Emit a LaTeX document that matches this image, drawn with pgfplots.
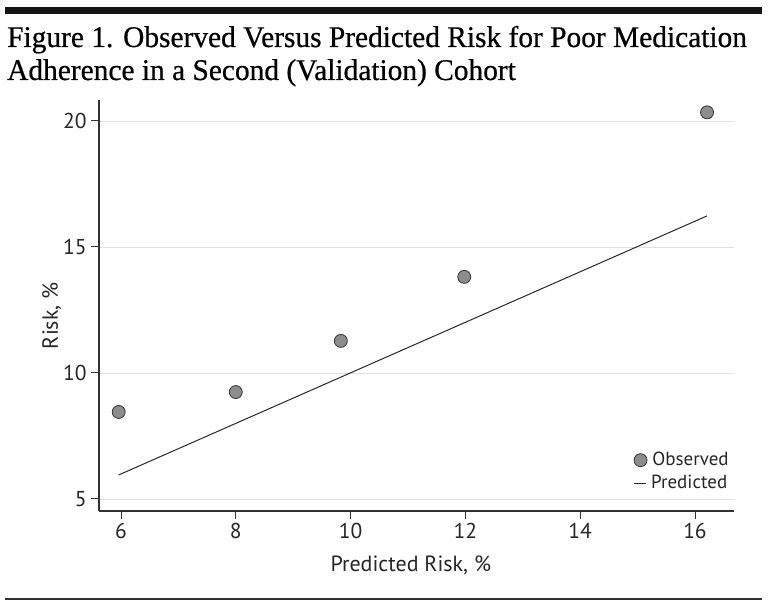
\documentclass[border=0pt]{standalone}
\usepackage{fontspec}
\setmainfont{PT Sans}
\newfontfamily\titlefont[FakeStretch=0.98,FakeBold=0.6]{Liberation Serif}
\usepackage{pgfplots}
\pgfplotsset{compat=1.18}
\definecolor{axisgray}{RGB}{50,50,50}
\definecolor{gridgray}{RGB}{225,225,225}
\definecolor{markgray}{RGB}{140,140,140}

\begin{document}
\begin{tikzpicture}[x=1bp,y=1bp]
\path[use as bounding box] (0,0) rectangle (768,605);
% rules and title
\fill[black!92] (5,590.5) rectangle (762,597.5);
\fill[black!80] (5,5) rectangle (762,7);
\node[anchor=base west, inner sep=0, font=\titlefont\fontsize{30bp}{33bp}\selectfont]
  at (7,558) {Figure 1. Observed Versus Predicted Risk for Poor Medication};
\node[anchor=base west, inner sep=0, font=\titlefont\fontsize{30bp}{33bp}\selectfont]
  at (7,525) {Adherence in a Second (Validation) Cohort};

\begin{axis}[
  at={(99bp,94bp)}, anchor=south west,
  scale only axis,
  width=635bp, height=411bp,
  xmin=5.617, xmax=16.68,
  ymin=4.52, ymax=20.83,
  axis x line*=bottom, axis y line*=left,
  axis line style={axisgray, line width=1.2pt},
  xtick={6,8,...,16}, ytick={5,10,15,20},
  tick align=outside,
  major tick length=8bp,
  tick style={axisgray, line width=0.9pt},
  ymajorgrids,
  grid style={gridgray, line width=0.8pt},
  /pgf/number format/assume math mode=true,
  tick label style={font=\fontsize{21.5bp}{24bp}\selectfont, text=black!85},
  xticklabel style={yshift=-1bp},
  yticklabel style={xshift=-1bp},
  xlabel={Predicted Risk, \%},
  ylabel={Risk, \%},
  label style={font=\fontsize{22bp}{24bp}\selectfont, text=black!85},
  xlabel style={at={(axis description cs:0.491,0)}, anchor=base, yshift=-61bp},
  ylabel style={at={(axis description cs:-0.0646,0.475)}, anchor=base},
  legend style={draw=none, fill=none, at={(0.995,0.045)}, anchor=south east,
    font=\fontsize{19bp}{21bp}\selectfont, text=black!85,
    row sep=4bp, inner sep=0pt},
  legend cell align=left,
  legend image code/.code={},
]
\addplot[only marks, mark=*, mark size=6.5bp,
  mark options={fill=markgray, draw=black!80, line width=0.8pt}]
  coordinates {
  (5.96,8.45)
  (8.00,9.24)
  (9.83,11.27)
  (11.98,13.81)
  (16.21,20.34)
};
\addlegendentry{\tikz[baseline=-0.6ex]\draw[fill=markgray, draw=black!80, line width=0.8pt] (0,0) circle (6.5bp);\hspace{5bp}Observed}
\addplot[black!85, line width=1pt] coordinates {
  (5.96,5.95)
  (16.21,16.23)
};
\addlegendentry{\tikz[baseline=-0.6ex]\draw[black!85, line width=1pt] (-6bp,0) -- (5.5bp,0);\hspace{5bp}Predicted}
\end{axis}
\end{tikzpicture}
\end{document}
